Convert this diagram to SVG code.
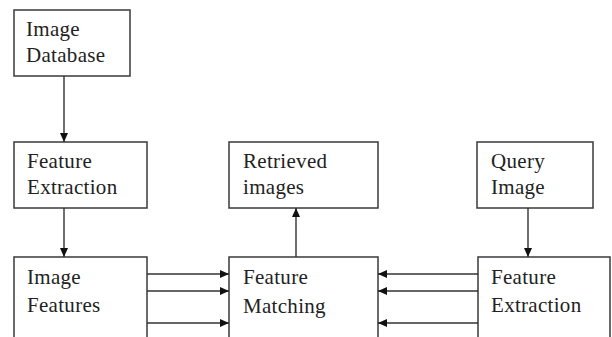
<svg xmlns="http://www.w3.org/2000/svg" width="612" height="337" viewBox="0 0 612 337">
<style>
.box{fill:#fff;stroke:#3a3a3a;stroke-width:1.5}
.t{font-family:'Liberation Serif','Times New Roman','DejaVu Serif',serif;font-size:21px;letter-spacing:0.3px;fill:#222}
.c{stroke:#333;stroke-width:1.4;fill:none;marker-end:url(#ah)}
</style>
<defs>
<marker id="ah" markerWidth="9" markerHeight="8" refX="9" refY="4" orient="auto" markerUnits="userSpaceOnUse">
<path d="M0,0 L9,4 L0,8 Z" fill="#111"/>
</marker>
</defs>
<rect width="612" height="337" fill="#fff"/>
<g id="image-database"><rect class="box" x="14" y="10" width="116" height="66"/><text class="t" x="26" y="36">Image</text><text class="t" x="26" y="62">Database</text></g>
<g id="feature-extraction-left"><rect class="box" x="14" y="142" width="133" height="66"/><text class="t" x="27" y="168">Feature</text><text class="t" x="27" y="194">Extraction</text></g>
<g id="image-features"><rect class="box" x="14" y="257" width="133" height="100"/><text class="t" x="27" y="284">Image</text><text class="t" x="27" y="312">Features</text></g>
<g id="retrieved-images"><rect class="box" x="229" y="142" width="149" height="66"/><text class="t" x="243" y="168">Retrieved</text><text class="t" x="243" y="194">images</text></g>
<g id="feature-matching"><rect class="box" x="229" y="257" width="149" height="100"/><text class="t" x="243" y="284">Feature</text><text class="t" x="243" y="313">Matching</text></g>
<g id="query-image"><rect class="box" x="477" y="142" width="116" height="66"/><text class="t" x="491" y="168">Query</text><text class="t" x="491" y="194">Image</text></g>
<g id="feature-extraction-right"><rect class="box" x="478" y="257" width="132" height="100"/><text class="t" x="491" y="284">Feature</text><text class="t" x="491" y="312">Extraction</text></g>
<g id="connectors">
<line class="c" x1="64" y1="76" x2="64" y2="142"/>
<line class="c" x1="64" y1="208" x2="64" y2="257"/>
<line class="c" x1="147" y1="274" x2="229" y2="274"/>
<line class="c" x1="147" y1="291" x2="229" y2="291"/>
<line class="c" x1="147" y1="323" x2="229" y2="323"/>
<line class="c" x1="296" y1="257" x2="296" y2="208"/>
<line class="c" x1="478" y1="274" x2="378" y2="274"/>
<line class="c" x1="478" y1="291" x2="378" y2="291"/>
<line class="c" x1="478" y1="323" x2="378" y2="323"/>
<line class="c" x1="528" y1="208" x2="528" y2="257"/>
</g>
</svg>
